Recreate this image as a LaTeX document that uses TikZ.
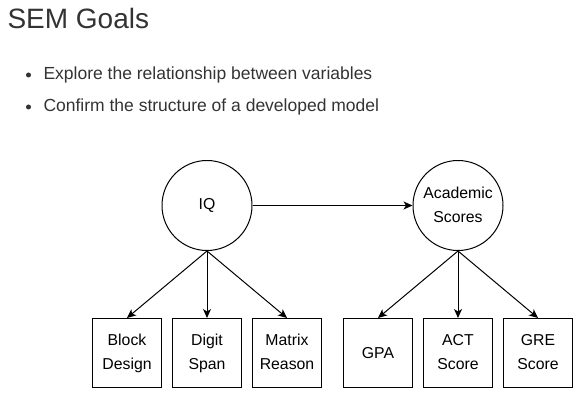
\documentclass[tikz,border=0pt]{standalone}
\usepackage{fontspec}
\setmainfont{Liberation Sans}
\usetikzlibrary{arrows.meta}
\definecolor{slidegray}{HTML}{333333}
\tikzstyle{heading} = [anchor=base west,inner sep=0pt,text=slidegray,font=\fontsize{28}{34}\selectfont]
\tikzstyle{item} = [anchor=base west,inner sep=0pt,text=slidegray,font=\fontsize{17.5}{20}\selectfont]
\tikzstyle{bullet} = [circle,fill=slidegray,inner sep=0pt,minimum size=5pt]
\tikzstyle{latent} = [align=center,draw=black,circle,minimum size=90pt,inner sep=0pt,font=\fontsize{15.8}{24}\selectfont]
\tikzstyle{observed} = [align=center,draw=black,rectangle,minimum width=69pt,minimum height=69pt,inner sep=0pt,font=\fontsize{15.8}{24}\selectfont]

\begin{document}
\begin{tikzpicture}[x=1pt,y=-1pt,node distance=80pt,line width=1pt,>={Stealth[length=9pt,width=8pt,inset=2.5pt]}]
	\useasboundingbox (0,0) rectangle (580,395);
	% title and goals
	\node (title) [heading] at (7,28.3) {SEM Goals};
	\node (dot1) [bullet] at (28.5,75) {};
	\node (goal1) [item] at (43,80) {Explore the relationship between variables};
	\node (dot2) [bullet] at (28.5,107) {};
	\node (goal2) [item] at (43,112) {Confirm the structure of a developed model};
	% latent variables
	\node (iq) [latent] at (207,205.5) {IQ};
	\node (acad) [latent] at (458,205.5) {Academic\strut\\Scores\strut};
	% indicators
	\node (block) [observed] at (127,353) {Block\strut\\Design\strut};
	\node (digit) [observed,right of=block] {Digit\strut\\Span\strut};
	\node (matrix) [observed,right of=digit] {Matrix\strut\\Reason\strut};
	\node (gpa) [observed] at (378,353) {GPA};
	\node (act) [observed,right of=gpa] {ACT\strut\\Score\strut};
	\node (gre) [observed,right of=act] {GRE\strut\\Score\strut};
	\draw [->] (iq) -- (acad);
	\draw [->] (iq.south) -- (block.north);
	\draw [->] (iq.south) -- (digit.north);
	\draw [->] (iq.south) -- (matrix.north);
	\draw [->] (acad.south) -- (gpa.north);
	\draw [->] (acad.south) -- (act.north);
	\draw [->] (acad.south) -- (gre.north);
\end{tikzpicture}
\end{document}
